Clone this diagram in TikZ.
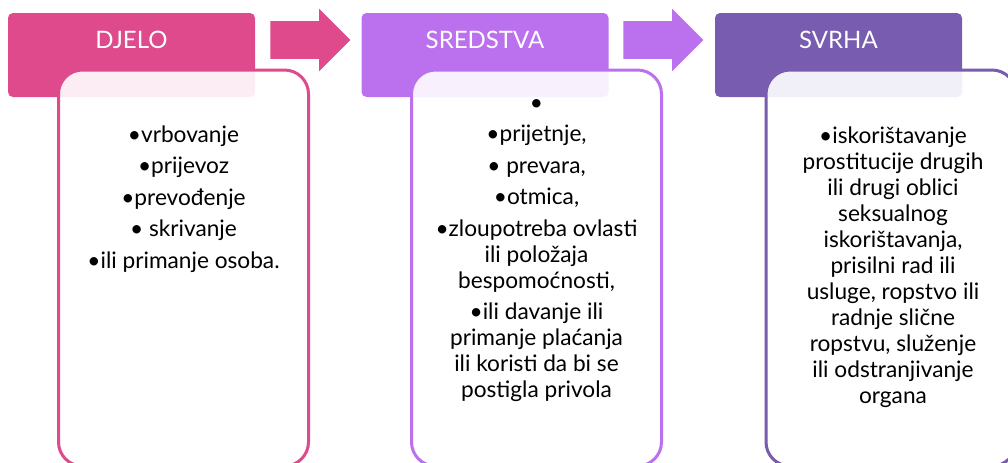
\documentclass[tikz,border=0pt]{standalone}
\usepackage{fontspec}
\setmainfont{Lato}
\usetikzlibrary{shapes.arrows}
\definecolor{djelo}{RGB}{222,74,139}
\definecolor{sredstva}{RGB}{187,113,238}
\definecolor{svrha}{RGB}{119,92,175}

\begin{document}
\begin{tikzpicture}[x=0.75pt,y=-0.75pt,
  head/.style={rounded corners=3.75pt,minimum width=185.25pt,minimum height=63pt,inner sep=0pt},
  headtxt/.style={text=white,inner sep=0pt,font=\fontsize{18}{20}\selectfont,yshift=11.25pt},
  body/.style={draw,line width=2.25pt,fill=white,fill opacity=.9,rounded corners=18pt,
               minimum width=187.5pt,minimum height=297pt,inner sep=0pt},
  items/.style={anchor=north,align=center,inner sep=0pt,font=\fontsize{17}{19.5}\selectfont},
  flow/.style={single arrow,single arrow head extend=9.4pt,minimum height=60pt,
               inner xsep=0pt,inner ysep=13.9pt}]
\useasboundingbox (0,0) rectangle (1008,462);

% headers
\path
(131.5,55) node[head,fill=djelo]    (dj) {}
(485,55)   node[head,fill=sredstva] (sr) {}
(838.5,55) node[head,fill=svrha]    (sv) {};
\node[headtxt] (djt) at (dj) {DJELO};
\node[headtxt] (srt) at (sr) {SREDSTVA};
\node[headtxt] (svt) at (sv) {SVRHA};

% boxes, drawn over the headers
\path
(183.5,268) node[body,draw=djelo]    (djb) {}
(536.5,268) node[body,draw=sredstva] (srb) {}
(891,268)   node[body,draw=svrha]    (svb) {};

\node[items] (djl) at (183.5,124) {\strut•vrbovanje\\[4.1pt]•prijevoz\\[4.1pt]•prevođenje\\[4.1pt]• skrivanje\\[4.1pt]•ili primanje osoba.};
\node[items] (srl) at (536.5,92) {\strut•\\[4.1pt]•prijetnje,\\[4.1pt]• prevara,\\[4.1pt]•otmica,\\[4.1pt]•zloupotreba ovlasti\\ili položaja\\bespomoćnosti,\\[4.1pt]•ili davanje ili\\primanje plaćanja\\ili koristi da bi se\\postigla privola};
\node[items] (svl) at (893,125) {\strut•iskorištavanje\\prostitucije drugih\\ili drugi oblici\\seksualnog\\iskorištavanja,\\prisilni rad ili\\usluge, ropstvo ili\\radnje slične\\ropstvu, služenje\\ili odstranjivanje\\organa};

% block arrows between the headers
\path
(301,40) node[flow,fill=djelo]    (a1) {}
(654,40) node[flow,fill=sredstva] (a2) {};
\end{tikzpicture}
\end{document}
